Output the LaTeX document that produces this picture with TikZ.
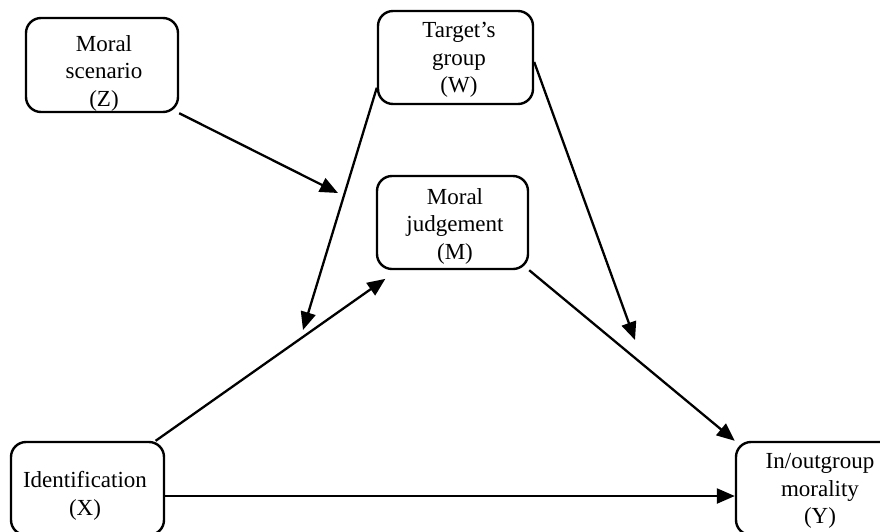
\documentclass[tikz,border=0pt]{standalone}
\usepackage{fontspec}
\setmainfont{Liberation Serif}
\usetikzlibrary{arrows.meta}
\begin{document}
\begin{tikzpicture}[x=1pt,y=-1pt,
    box/.style={draw,line width=2.4pt,rounded corners=15pt,minimum width=152pt,minimum height=93pt},
    txt/.style={align=center,inner sep=0pt,font=\fontsize{23}{27.5}\selectfont},
    arr/.style={-{Triangle[length=18pt,width=15pt]},line width=2.3pt}]
      \useasboundingbox (0,0) rectangle (880,531);
      \draw
        (102,65) node[box,minimum height=94pt] (z){}
        (455.5,57.5) node[box,minimum width=155pt] (w){}
        (452.5,222.5) node[box,minimum width=151pt] (m){}
        (87.5,488.5) node[box,minimum width=153pt] (x){}
        (820,488.5) node[box,minimum width=168pt] (y){};
      \draw
        (104,73) node[txt] (zt){Moral\\scenario\\(Z)}
        (459,60) node[txt] (wt){Target’s\\group\\(W)}
        (455,226) node[txt] (mt){Moral\\judgement\\(M)}
        (85,496) node[txt] (xt){Identification\\(X)}
        (820,491) node[txt] (yt){In/outgroup\\morality\\(Y)};
      \coordinate (zm) at (338,193);
      \coordinate (wx) at (303,330);
      \coordinate (wy) at (635,340);
      \begin{scope}[arr]
        \draw (z.south east) to (zm);
        \draw (w.201) to (wx);
        \draw ([yshift=-4.5pt]w.east) to (wy);
        \draw[shorten >=15pt] (x.35) to (m.221);
        \draw (m.south east) to (y.north west);
        \draw ([yshift=-7.5pt]x.east) to ([yshift=-7.5pt]y.west);
      \end{scope}
    \end{tikzpicture}
\end{document}
